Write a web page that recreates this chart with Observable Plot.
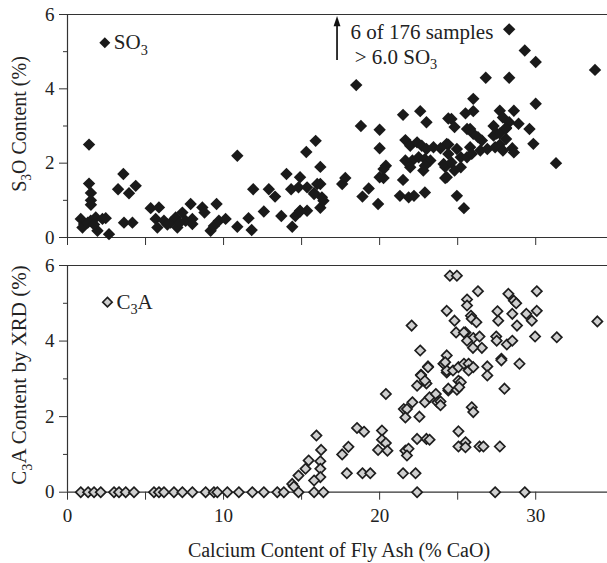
<!DOCTYPE html>
<html><head><meta charset="utf-8">
<script src="https://cdn.jsdelivr.net/npm/d3@7"></script>
<script src="https://cdn.jsdelivr.net/npm/@observablehq/plot@0.6"></script>
<style>body{margin:0;background:#fff;} #chart svg{display:block;} #chart svg, #chart svg text{font-family:"Liberation Serif","DejaVu Serif",serif !important;}</style>
</head><body><div id="chart"></div>
<script>
// ---- data (x = CaO %, y = content %) ----
const so3Points = [
[0.85,0.5],[1.06,0.36],[0.96,0.27],[1.38,2.5],[1.38,1.45],[1.5,1.2],[1.5,1.0],[1.5,0.88],[1.49,0.45],[1.81,0.54],[1.92,0.18],[2.24,0.5],[2.45,0.52],[2.66,0.09],[1.3,0.4],[1.7,0.35],
[3.24,1.3],[3.58,1.71],[3.94,1.19],[4.37,1.39],[3.62,0.4],[4.16,0.4],
[5.33,0.79],[5.86,0.81],[5.65,0.5],[5.76,0.27],[6.18,0.45],[6.61,0.4],[6.93,0.54],[7.04,0.27],[7.36,0.67],[7.57,0.45],[7.89,0.9],[8.0,0.5],[8.0,0.36],[6.4,0.35],[7.2,0.4],
[8.64,0.81],[8.78,0.67],[9.55,0.9],[9.17,0.18],[9.38,0.31],[9.7,0.45],[10.13,0.5],
[10.88,2.2],[10.88,0.29],[11.6,0.52],[11.8,0.2],[11.9,1.3],[12.58,0.7],[12.9,1.3],[13.3,1.1],[13.7,0.58],[14.03,1.71],[14.4,0.29],[14.33,1.3],[14.8,1.35],[14.6,0.58],[14.9,0.7],
[15.3,2.3],[15.9,2.6],[16.2,1.9],[16.2,1.44],[15.8,1.2],[16.3,1.08],[16.2,0.8],[15.35,0.72],[14.9,0.72],[16.4,0.99],[15.35,1.35],[16.0,1.44],[14.9,1.62],[15.8,1.17],
[17.6,1.44],[17.8,1.6],[18.5,4.1],[18.8,3.0],[18.9,1.1],[19.3,1.32],[19.9,0.9],[20.0,2.9],[20.0,2.4],[20.4,1.93],[20.25,1.6],[20.0,1.62],[20.25,1.84],
[21.5,3.3],[22.6,3.4],[23.0,3.1],[21.65,2.62],[21.96,2.47],[22.4,2.56],[22.7,2.47],[23.0,2.38],[23.45,2.43],[21.65,2.07],[22.1,2.07],[22.5,2.16],[22.9,2.11],[23.25,2.07],[22.8,1.8],[21.5,1.55],[21.3,1.12],[21.86,1.08],[22.2,1.12],[22.9,1.21],[21.96,1.89],[22.9,1.93],
[24.4,3.2],[24.4,2.5],[24.2,1.9],[24.2,1.6],[24.6,3.19],[24.8,2.97],[25.5,3.34],[26.0,3.4],[26.0,3.73],[26.8,4.3],[28.3,4.3],[28.3,5.6],[29.3,5.03],[30.0,4.72],[33.8,4.51],[30.0,3.6],
[27.7,3.41],[28.6,3.41],[27.9,3.23],[28.9,3.06],[27.3,3.0],[27.5,2.8],[28.1,2.95],[28.3,3.1],[27.7,2.5],[28.5,2.4],[28.1,2.65],[29.6,2.92],[29.85,2.52],[31.3,2.0],
[25.6,2.92],[26.0,2.79],[26.55,2.61],[25.8,2.43],[26.45,2.34],[26.9,2.38],
[24.3,2.52],[24.4,2.25],[24.95,2.38],[25.2,2.16],[25.6,2.16],[25.9,2.25],[24.1,1.98],[24.6,2.02],[25.2,1.89],[24.3,1.62],[24.8,1.8],[23.9,2.4],[24.95,1.12],[25.4,0.79],
[27.4,2.43],[27.9,2.34],[28.6,2.29],[27.3,2.74],[27.7,2.8],[28.1,2.93],[25.8,2.92],[26.3,2.7]
];
const c3aPoints = [
[0.85,0],[1.32,0],[1.7,0],[2.13,0],[2.98,0],[3.3,0],[3.73,0],[4.26,0],[5.54,0],[5.86,0],[6.18,0],[6.82,0],[7.36,0],[8.0,0],[8.85,0],[9.38,0],[9.6,0],[10.24,0],[10.98,0],[11.84,0],[12.58,0],[13.44,0],[13.86,0],[14.8,0],[15.8,0],[16.4,0],[22.4,0],[27.4,0],[29.3,0],
[15.95,1.5],[16.25,1.12],[15.45,0.84],[16.2,0.82],[15.25,0.62],[16.2,0.62],[14.8,0.44],[16.2,0.4],[14.4,0.22],[14.5,0.15],[15.8,0.31],
[17.9,0.5],[18.9,0.5],[19.4,0.5],[17.6,1.0],[18.0,1.2],[18.55,1.7],[19.0,1.6],[20.15,1.63],[20.15,1.39],[20.4,1.3],[19.9,1.12],[20.5,1.1],[20.4,2.6],
[21.5,0.5],[22.3,0.5],[21.65,1.1],[21.85,1.15],[21.75,0.97],[22.4,1.41],[23.0,1.41],[23.2,1.39],[21.55,2.2],[21.75,2.2],[22.1,2.38],[21.65,1.98],[22.55,2.0],[22.4,2.82],[23.0,2.88],[22.65,3.11],[23.1,3.33],[22.9,2.38],[23.2,2.51],[23.6,2.6],[23.7,2.38],[24.1,3.4],[24.3,3.17],[24.4,2.69],
[24.5,5.73],[24.95,5.73],[22.05,4.41],[24.3,4.8],[24.8,4.54],[24.9,4.23],[25.5,4.23],[25.6,5.1],[25.6,4.94],[22.6,3.75],[23.1,3.31],[22.65,3.09],[22.9,2.95],[24.3,3.62],[24.1,3.4],[24.3,3.22],[24.7,3.22],[25.05,3.31],[25.4,3.4],[25.05,2.95],
[26.3,5.32],[25.85,4.67],[25.9,4.59],[26.2,4.5],[28.25,5.25],[28.6,5.07],[28.75,5.0],[30.07,5.32],[27.55,4.79],[27.6,4.54],[28.5,4.72],[28.8,4.41],[29.4,4.72],[29.75,4.54],[30.07,4.8],[33.95,4.52],[31.35,4.1],[29.96,4.12],
[25.4,4.23],[26.0,4.08],[26.4,4.12],[26.55,3.82],[25.98,3.82],[27.47,4.12],[27.5,4.01],[28.15,3.91],[28.5,4.01],[25.6,4.01],
[24.2,3.44],[25.7,3.4],[25.7,3.22],[26.0,3.31],[26.9,3.33],[26.9,3.09],[27.8,3.53],[27.8,3.49],[28.96,3.4],
[24.4,2.74],[24.95,2.71],[25.2,2.91],[25.1,2.78],[28.0,2.74],[23.9,2.4],[23.9,2.3],[25.9,2.25],[26.0,2.12],[25.05,1.61],[25.05,1.21],[25.5,1.32],[25.5,1.19],[26.4,1.21],[26.65,1.21],[27.7,1.21]
];
const xTicks = [0,5,10,15,20,25,30];
const xLabeled = [0,10,20,30];
const yMajor = [0,2,4,6];
const yMinor = [1,3,5];
const xDomain = [0, 34.6];
const yDomain = [0, 6];
const topLegend = [{x:2.39, y:5.24, label:"SO_3"}];
const bottomLegend = [{x:2.56, y:5.03, label:"C_3A"}];
const noteLines = [{x:18.13, y:5.53, label:"6 of 176 samples"}, {x:18.4, y:4.85, label:"> 6.0 SO_3"}];
const noteArrow = {x:17.27, y1:4.76, y2:5.72, tip:5.8};
const titles = {top:"S_3O Content (%)", bottom:"C_3A Content by XRD (%)", x:"Calcium Content of Fly Ash (% CaO)"};

const FONT = "Liberation Serif, DejaVu Serif, serif";
const INK = "#222";
function diamond(k){ return {draw(ctx,size){const h=Math.sqrt(size/Math.PI)*k; ctx.moveTo(0,-h);ctx.lineTo(h,0);ctx.lineTo(0,h);ctx.lineTo(-h,0);ctx.closePath();}}; }
const arrowHead = {draw(ctx,size){const h=Math.sqrt(size/Math.PI); ctx.moveTo(0,-h*1.4); ctx.lineTo(h*0.8,h*1.0); ctx.lineTo(-h*0.8,h*1.0); ctx.closePath();}};

function axes(showLabels){ return [
  Plot.ruleY([0,6], {stroke:"#333", strokeWidth:1.2}),
  Plot.ruleX([0], {stroke:"#333", strokeWidth:1.2}),
  Plot.axisY({ticks: yMajor, tickSize:8, tickPadding:5, fontSize:19, label:null, stroke:"#333", tickFormat: d => String(d)}),
  Plot.axisY({ticks: yMinor, tickSize:4, tickFormat:()=>"", label:null, stroke:"#333"}),
  Plot.axisX({ticks: xTicks, tickSize:8, tickPadding:8, fontSize:19, label:null, stroke:"#333",
    tickFormat: d => showLabels && xLabeled.includes(d) ? String(d) : ""})
];}

const common = {width:607, marginLeft:67, marginRight:0, x:{domain:xDomain}, y:{domain:yDomain},
  style:{fontFamily:FONT, fontSize:"18px", color:INK, background:"white", overflow:"visible"}};

const topPlot = Plot.plot({...common, height:245, marginTop:14, marginBottom:8,
  marks:[
    ...axes(false),
    Plot.dot(so3Points, {x:d=>d[0], y:d=>d[1], r:5, symbol:diamond(1.24), fill:"#1a1a1a", stroke:"none"}),
    Plot.dot(topLegend, {x:"x", y:"y", r:5, symbol:diamond(1.1), fill:"#1a1a1a"}),
    Plot.text(topLegend, {x:"x", y:"y", text:"label", textAnchor:"start", dx:9, fontSize:21, fill:INK}),
    Plot.ruleX([noteArrow], {x:"x", y1:"y1", y2:"y2", stroke:"#111", strokeWidth:1.7}),
    Plot.dot([noteArrow], {x:"x", y:"tip", r:4.3, symbol:arrowHead, fill:"#111"}),
    Plot.text(noteLines, {x:"x", y:"y", text:"label", textAnchor:"start", fontSize:21, fill:INK})
  ]});

const bottomPlot = Plot.plot({...common, height:318, marginTop:20, marginBottom:71.3,
  marks:[
    ...axes(true),
    Plot.dot(c3aPoints, {x:d=>d[0], y:d=>d[1], r:5, symbol:diamond(1.02), fill:"#cfcfcf", stroke:"#1e1e1e", strokeWidth:1.7}),
    Plot.dot(bottomLegend, {x:"x", y:"y", r:5, symbol:diamond(0.95), fill:"#cfcfcf", stroke:"#1e1e1e", strokeWidth:1.6}),
    Plot.text(bottomLegend, {x:"x", y:"y", text:"label", textAnchor:"start", dx:9, fontSize:21, fill:INK})
  ]});

const chart = document.getElementById("chart");
chart.appendChild(topPlot);
chart.appendChild(bottomPlot);

function addTitle(svg, label, x, y, rotate, size){
  d3.select(svg).append("text")
    .attr("transform", `translate(${x},${y})` + (rotate ? " rotate(-90)" : ""))
    .attr("text-anchor","middle").attr("dy","0.35em")
    .attr("font-size",size).attr("fill",INK)
    .text(label);
}
addTitle(topPlot, titles.top, 19, 124, true, 20);
addTitle(bottomPlot, titles.bottom, 19, 130, true, 21);
addTitle(bottomPlot, titles.x, 339, 305, false, 20);

function subify(svg){
  d3.select(svg).selectAll("text").each(function(){
    const t = this.textContent;
    if (!t.includes("_") || this.querySelector("tspan")) return;
    const fs = parseFloat(getComputedStyle(this).fontSize) || 18;
    this.textContent = "";
    const parts = t.split(/_(\d)/);
    parts.forEach((p,i) => {
      if (!p) return;
      const ts = document.createElementNS("http://www.w3.org/2000/svg","tspan");
      ts.textContent = p;
      if (i % 2 === 1) { ts.setAttribute("font-size", fs*0.68); ts.setAttribute("dy", fs*0.25); }
      else if (i > 0) { ts.setAttribute("dy", -fs*0.25); }
      this.appendChild(ts);
    });
  });
}
subify(topPlot); subify(bottomPlot);
</script>
</body></html>
